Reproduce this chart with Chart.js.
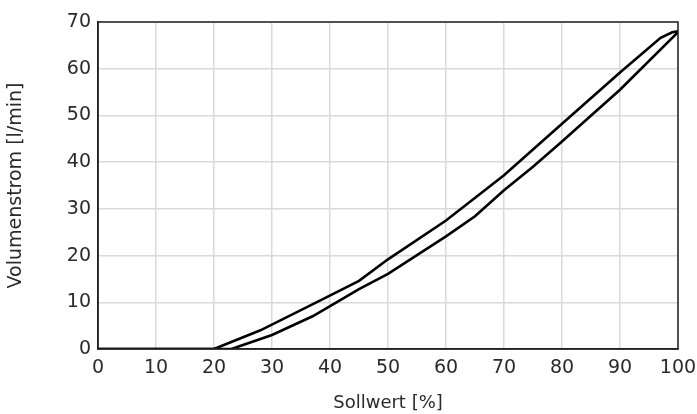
<!DOCTYPE html>
<html>
<head>
<meta charset="utf-8">
<script src="https://cdn.jsdelivr.net/npm/chart.js@4.4.1/dist/chart.umd.min.js"></script>
<style>
  html, body { margin: 0; padding: 0; background: #fff; }
  canvas { display: block; }
</style>
</head>
<body>
<canvas id="chart" width="697" height="414"></canvas>
<script>
// Sollwert [%] / Volumenstrom [l/min] - rising branch
const upX = [0, 20, 28, 38, 45, 50, 60, 70, 80, 90, 97, 99, 100];
const upY = [0, 0, 4, 10.2, 14.6, 19.2, 27.5, 37.2, 48.2, 59.2, 66.6, 67.8, 68];

// falling branch
const downX = [0, 23, 30, 37, 45, 50, 60, 65, 70, 75, 80, 90, 100];
const downY = [0, 0, 3, 7, 12.8, 16.1, 24.1, 28.4, 34, 39, 44.4, 55.5, 67.8];

const xTicks = [0, 10, 20, 30, 40, 50, 60, 70, 80, 90, 100];
const yTicks = [0, 10, 20, 30, 40, 50, 60, 70];

const toPoints = (xs, ys) => xs.map((x, i) => ({ x: x, y: ys[i] }));

const FONT = "'DejaVu Sans', sans-serif";
const TEXT = "#2a2a2a";

const frame = {
  id: "frame",
  afterDatasetsDraw(chart) {
    const a = chart.chartArea;
    const ctx = chart.ctx;
    ctx.save();
    ctx.strokeStyle = "#222";
    ctx.lineWidth = 1.5;
    ctx.strokeRect(a.left, a.top, a.right - a.left, a.bottom - a.top);
    ctx.restore();
  }
};

const lineStyle = {
  borderColor: "#000",
  borderWidth: 2.6,
  pointRadius: 0,
  tension: 0,
  fill: false
};

new Chart(document.getElementById("chart"), {
  type: "line",
  data: {
    datasets: [
      Object.assign({ label: "auf", data: toPoints(upX, upY) }, lineStyle),
      Object.assign({ label: "ab", data: toPoints(downX, downY) }, lineStyle)
    ]
  },
  options: {
    responsive: false,
    animation: false,
    layout: { padding: { left: 0, right: 19, top: 22, bottom: 0 } },
    plugins: { legend: { display: false }, tooltip: { enabled: false } },
    scales: {
      x: {
        type: "linear",
        min: 0,
        max: 100,
        afterBuildTicks: (s) => { s.ticks = xTicks.map(v => ({ value: v })); },
        afterFit: (s) => { s.height = 65; s.paddingLeft = 0; s.paddingRight = 0; },
        grid: { color: "#d9d9d9", lineWidth: 1.5, drawTicks: false },
        border: { color: "#222", width: 1.5 },
        ticks: { color: TEXT, padding: 8, maxRotation: 0, font: { family: FONT, size: 19 } },
        title: { display: true, text: "Sollwert [%]", color: TEXT, padding: { top: 0, bottom: 0 }, font: { family: FONT, size: 18 } }
      },
      y: {
        type: "linear",
        min: 0,
        max: 70,
        afterBuildTicks: (s) => { s.ticks = yTicks.map(v => ({ value: v })); },
        afterFit: (s) => { s.width = 98; s.paddingTop = 0; s.paddingBottom = 0; },
        grid: { color: "#d9d9d9", lineWidth: 1.5, drawTicks: false },
        border: { color: "#222", width: 1.5 },
        ticks: { color: TEXT, padding: 7, font: { family: FONT, size: 19 } },
        title: { display: true, text: "Volumenstrom [l/min]", color: TEXT, padding: { top: 5, bottom: 0 }, font: { family: FONT, size: 19 } }
      }
    }
  },
  plugins: [frame]
});
</script>
</body>
</html>
